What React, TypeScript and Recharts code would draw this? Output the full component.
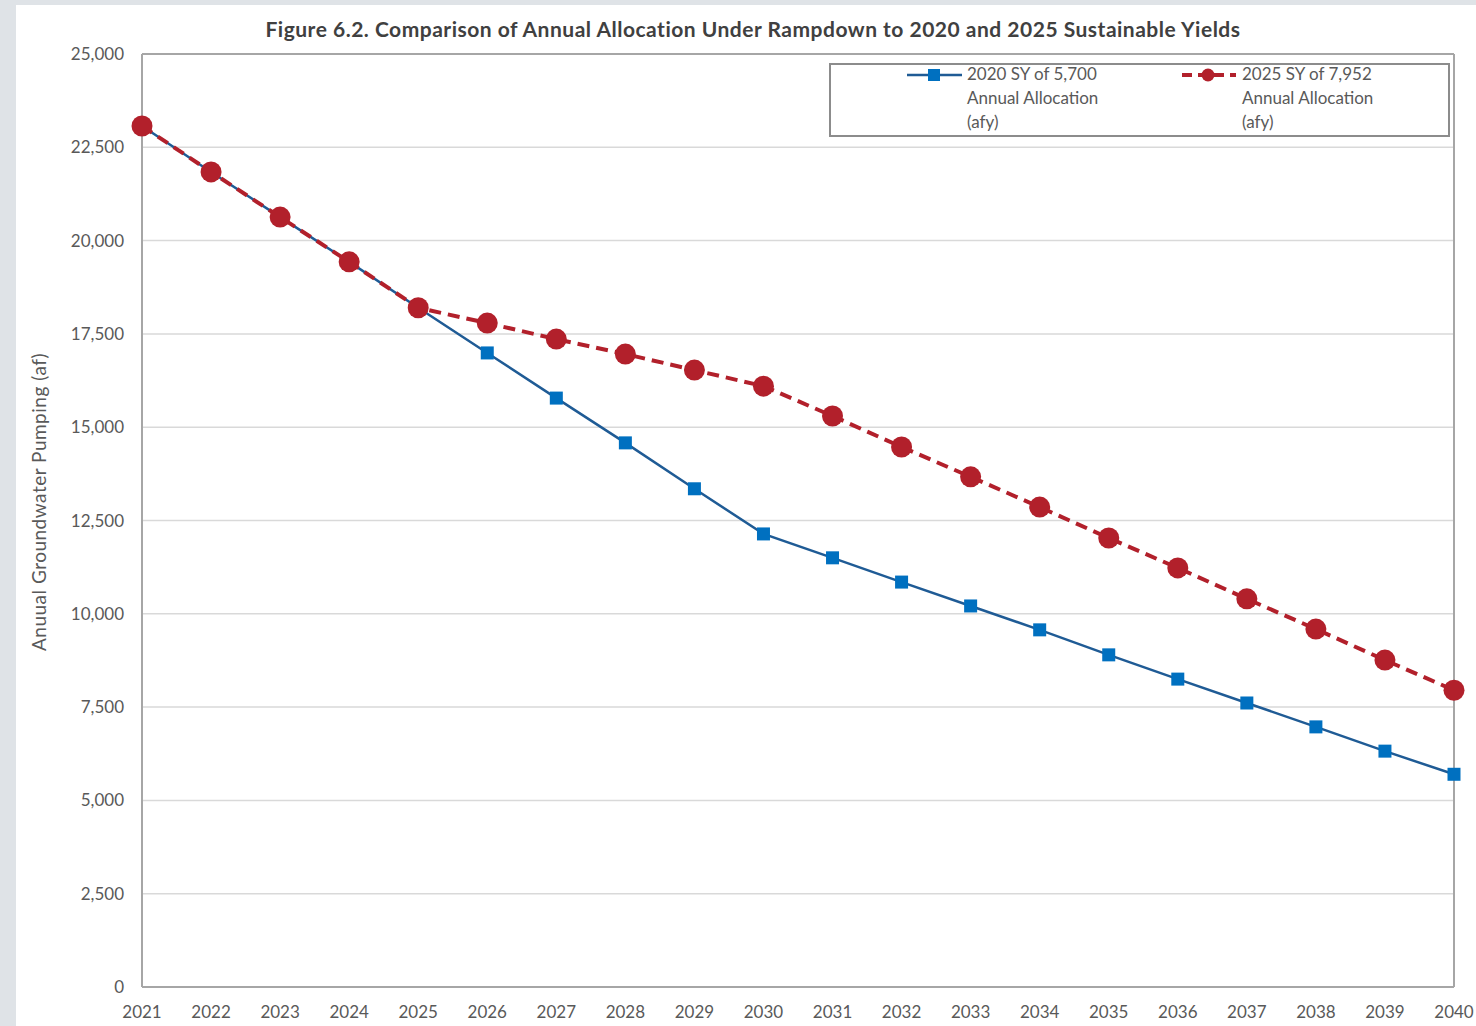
import React from 'react';
import { LineChart, Line, XAxis, YAxis, CartesianGrid, ReferenceLine, Label } from 'recharts';

const years = ['2021', '2022', '2023', '2024', '2025', '2026', '2027', '2028', '2029', '2030',
    '2031', '2032', '2033', '2034', '2035', '2036', '2037', '2038', '2039', '2040'];

// 2020 SY of 5,700
const sy2020 = [23070, 21840, 20630, 19430, 18200, 16990, 15780, 14580, 13350, 12140,
    11500, 10850, 10210, 9570, 8900, 8250, 7610, 6970, 6320, 5700];

// 2025 SY of 7,952
const sy2025 = [23070, 21840, 20630, 19430, 18200, 17790, 17360, 16960, 16530, 16100,
    15300, 14470, 13670, 12860, 12030, 11230, 10400, 9590, 8760, 7952];

const yTicks = [0, 2500, 5000, 7500, 10000, 12500, 15000, 17500, 20000, 22500, 25000];

const data = years.map((y, i) => ({ year: y, a: sy2020[i], b: sy2025[i] }));

const font = 'Lato, "Open Sans", sans-serif';
const textGray = '#595959';

const SquareDot = (props: any) => {
    const { cx, cy, index } = props;
    if (cx == null || cy == null) return <g key={index} />;
    return <rect key={index} x={cx - 6.5} y={cy - 6.5} width={13} height={13} fill="#0070C0" />;
};

const LegendItem = (props: any) => (
    <div style={{ position: 'absolute', left: props.left, top: -3, display: 'flex' }}>
        <svg width={62} height={24} style={{ marginTop: 1 }}>
            {props.dashed ? (
                <>
                    <line x1={2} y1={12} x2={56} y2={12} stroke="#B2202B" strokeWidth={4} strokeDasharray="10 6" />
                    <circle cx={28} cy={12} r={6.5} fill="#B2202B" />
                </>
            ) : (
                <>
                    <line x1={2} y1={12} x2={57} y2={12} stroke="#1F5B95" strokeWidth={2.5} />
                    <rect x={23} y={6} width={12} height={12} fill="#0070C0" />
                </>
            )}
        </svg>
        <div style={{ fontSize: 17, lineHeight: '24px', color: textGray, fontFamily: font }}>
            {props.lines.map((l: string) => <div key={l}>{l}</div>)}
        </div>
    </div>
);

const App = () => {
    return (
        <div style={{ position: 'absolute', left: 0, top: 0, width: 1476, height: 1026, background: '#dfe3e7', overflow: 'hidden' }}>
            <div style={{ position: 'absolute', left: 16, top: 5, width: 1460, height: 1021, background: '#ffffff' }}>
                <div style={{
                    position: 'absolute', left: 0, top: 11, width: 1474, textAlign: 'center',
                    fontFamily: font, fontWeight: 700, fontSize: 21, letterSpacing: 0.5, color: '#404040'
                }}>
                    Figure 6.2. Comparison of Annual Allocation Under Rampdown to 2020 and 2025 Sustainable Yields
                </div>
                <LineChart width={1460} height={1021} data={data} margin={{ top: 49, right: 22, left: 0, bottom: 0 }}>
                    <CartesianGrid vertical={false} stroke="#d9d9d9" strokeWidth={1.5} />
                    <XAxis dataKey="year" height={39} tickLine={false} tickMargin={13} interval={0}
                        axisLine={{ stroke: '#a6a6a6', strokeWidth: 2 }}
                        tick={{ fill: textGray, fontSize: 17, fontFamily: font }} />
                    <YAxis width={126} domain={[0, 25000]} ticks={yTicks} tickLine={false} tickMargin={12}
                        axisLine={{ stroke: '#a6a6a6', strokeWidth: 2 }}
                        tickFormatter={(v: number) => v.toLocaleString('en-US')}
                        tick={{ fill: textGray, fontSize: 17, fontFamily: font }}>
                        <Label content={() => (
                            <text x={22} y={497} transform="rotate(-90 22 497)" textAnchor="middle"
                                dominantBaseline="central" fill={textGray} fontSize={19} letterSpacing={0.5} fontFamily={font}>
                                Anuual Groundwater Pumping (af)
                            </text>
                        )} />
                    </YAxis>
                    <ReferenceLine y={25000} stroke="#a6a6a6" strokeWidth={2} />
                    <ReferenceLine x="2040" stroke="#a6a6a6" strokeWidth={2} />
                    <Line dataKey="a" stroke="#1F5B95" strokeWidth={2.5} dot={SquareDot} activeDot={false} isAnimationActive={false} />
                    <Line dataKey="b" stroke="#B2202B" strokeWidth={4} strokeDasharray="12 7"
                        dot={{ r: 10.5, fill: '#B2202B', stroke: 'none' }} activeDot={false} isAnimationActive={false} />
                </LineChart>
                <div style={{ position: 'absolute', left: 813, top: 58, width: 617, height: 70, border: '2px solid #8c8c8c' }}>
                    <LegendItem left={74} lines={['2020 SY of 5,700', 'Annual Allocation', '(afy)']} />
                    <LegendItem left={349} dashed lines={['2025 SY of 7,952', 'Annual Allocation', '(afy)']} />
                </div>
            </div>
        </div>
    );
};

export default App;
